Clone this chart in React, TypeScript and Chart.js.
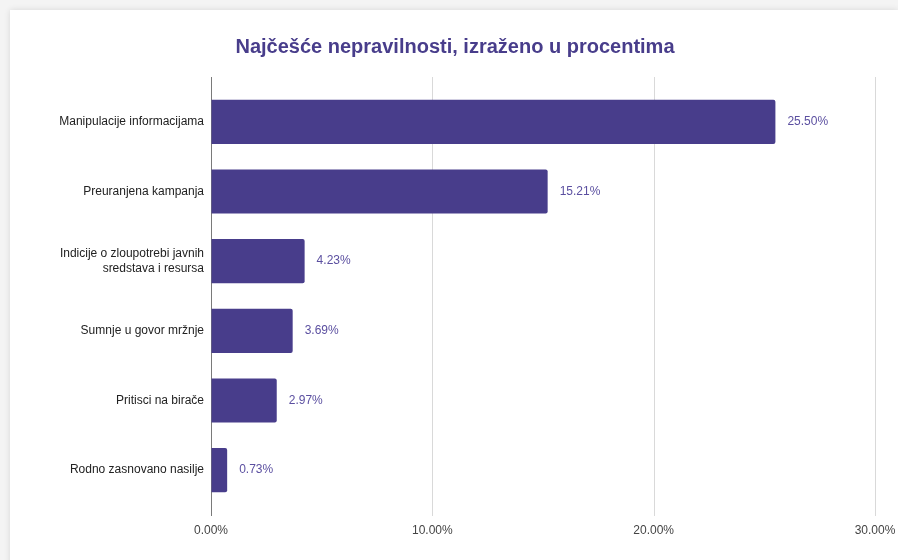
import React, { useEffect, useRef } from "react";
import { Chart, registerables } from "chart.js";

Chart.register(...registerables);

const TITLE = "Najčešće nepravilnosti, izraženo u procentima";
const categories: (string | string[])[] = [
  "Manipulacije informacijama",
  "Preuranjena kampanja",
  ["Indicije o zloupotrebi javnih", "sredstava i resursa"],
  "Sumnje u govor mržnje",
  "Pritisci na birače",
  "Rodno zasnovano nasilje",
];
const values = [25.5, 15.21, 4.23, 3.69, 2.97, 0.73];
const xTicks = [0, 10, 20, 30];

const BAR = "#483d8b";
const LABEL = "#5b4fa0";
const FONT = "'Liberation Sans', Arial, Helvetica, sans-serif";

const gridPlugin = {
  id: "extGrid",
  beforeDatasetsDraw(chart: any) {
    const { ctx, chartArea, scales } = chart;
    const xs = scales.x;
    ctx.save();
    ctx.lineWidth = 1;
    xTicks.forEach((v) => {
      const px = Math.round(xs.getPixelForValue(v)) + 0.5;
      ctx.strokeStyle = v === 0 ? "#7a7a7a" : "#d9d9d9";
      ctx.beginPath();
      ctx.moveTo(px, chartArea.top - 10);
      ctx.lineTo(px, chartArea.bottom + 11);
      ctx.stroke();
    });
    ctx.restore();
  },
};

const titlePlugin = {
  id: "customTitle",
  afterDraw(chart: any) {
    const { ctx } = chart;
    ctx.save();
    ctx.font = `bold 20px ${FONT}`;
    ctx.fillStyle = BAR;
    ctx.textAlign = "center";
    ctx.textBaseline = "middle";
    ctx.fillText(TITLE, 445, 37);
    ctx.restore();
  },
};

const valueLabelPlugin = {
  id: "valueLabels",
  afterDatasetsDraw(chart: any) {
    const { ctx } = chart;
    const meta = chart.getDatasetMeta(0);
    ctx.save();
    ctx.font = `12px ${FONT}`;
    ctx.fillStyle = LABEL;
    ctx.textAlign = "left";
    ctx.textBaseline = "middle";
    meta.data.forEach((el: any, i: number) => {
      ctx.fillText(values[i].toFixed(2) + "%", el.x + 12, el.y);
    });
    ctx.restore();
  },
};

export default function App() {
  const ref = useRef<HTMLCanvasElement>(null);
  useEffect(() => {
    document.body.style.margin = "0";
    const chart = new Chart(ref.current!, {
      type: "bar",
      data: {
        labels: categories,
        datasets: [
          {
            data: values,
            backgroundColor: BAR,
            borderRadius: 2,
            borderSkipped: "start",
            categoryPercentage: 1,
            barPercentage: 0.633,
          },
        ],
      },
      options: {
        indexAxis: "y",
        animation: false,
        responsive: false,
        maintainAspectRatio: false,
        layout: { padding: { left: 0, right: 23, top: 77, bottom: 0 } },
        plugins: {
          legend: { display: false },
          tooltip: { enabled: false },
          title: { display: false },
        },
        scales: {
          x: {
            type: "linear",
            min: 0,
            max: 30,
            afterBuildTicks: (s: any) => {
              s.ticks = xTicks.map((v) => ({ value: v }));
            },
            afterFit: (s: any) => {
              s.height = 55;
              s.paddingRight = 0;
              s.paddingLeft = 0;
            },
            grid: {
              display: true,
              drawOnChartArea: false,
              drawTicks: true,
              tickLength: 11,
              color: "rgba(0,0,0,0)",
            },
            border: { display: false },
            ticks: {
              padding: 7,
              color: "#444",
              font: { family: FONT, size: 12 },
              callback: (v: any) => Number(v).toFixed(2) + "%",
            },
          },
          y: {
            afterFit: (s: any) => {
              s.width = 201;
            },
            grid: { display: false, drawTicks: false },
            border: { display: false },
            ticks: {
              padding: 7,
              color: "#222",
              font: { family: FONT, size: 12 },
            },
          },
        },
      },
      plugins: [gridPlugin, valueLabelPlugin, titlePlugin],
    });
    return () => chart.destroy();
  }, []);

  return (
    <div
      style={{
        position: "fixed",
        left: 0,
        top: 0,
        width: 898,
        height: 560,
        background: "#f4f4f4",
        overflow: "hidden",
      }}
    >
      <div
        style={{
          position: "absolute",
          left: 10,
          top: 10,
          width: 888,
          height: 560,
          background: "#fff",
          boxShadow: "0 0 6px rgba(0,0,0,0.12)",
        }}
      >
        <canvas ref={ref} width={888} height={550} style={{ display: "block" }} />
      </div>
    </div>
  );
}
